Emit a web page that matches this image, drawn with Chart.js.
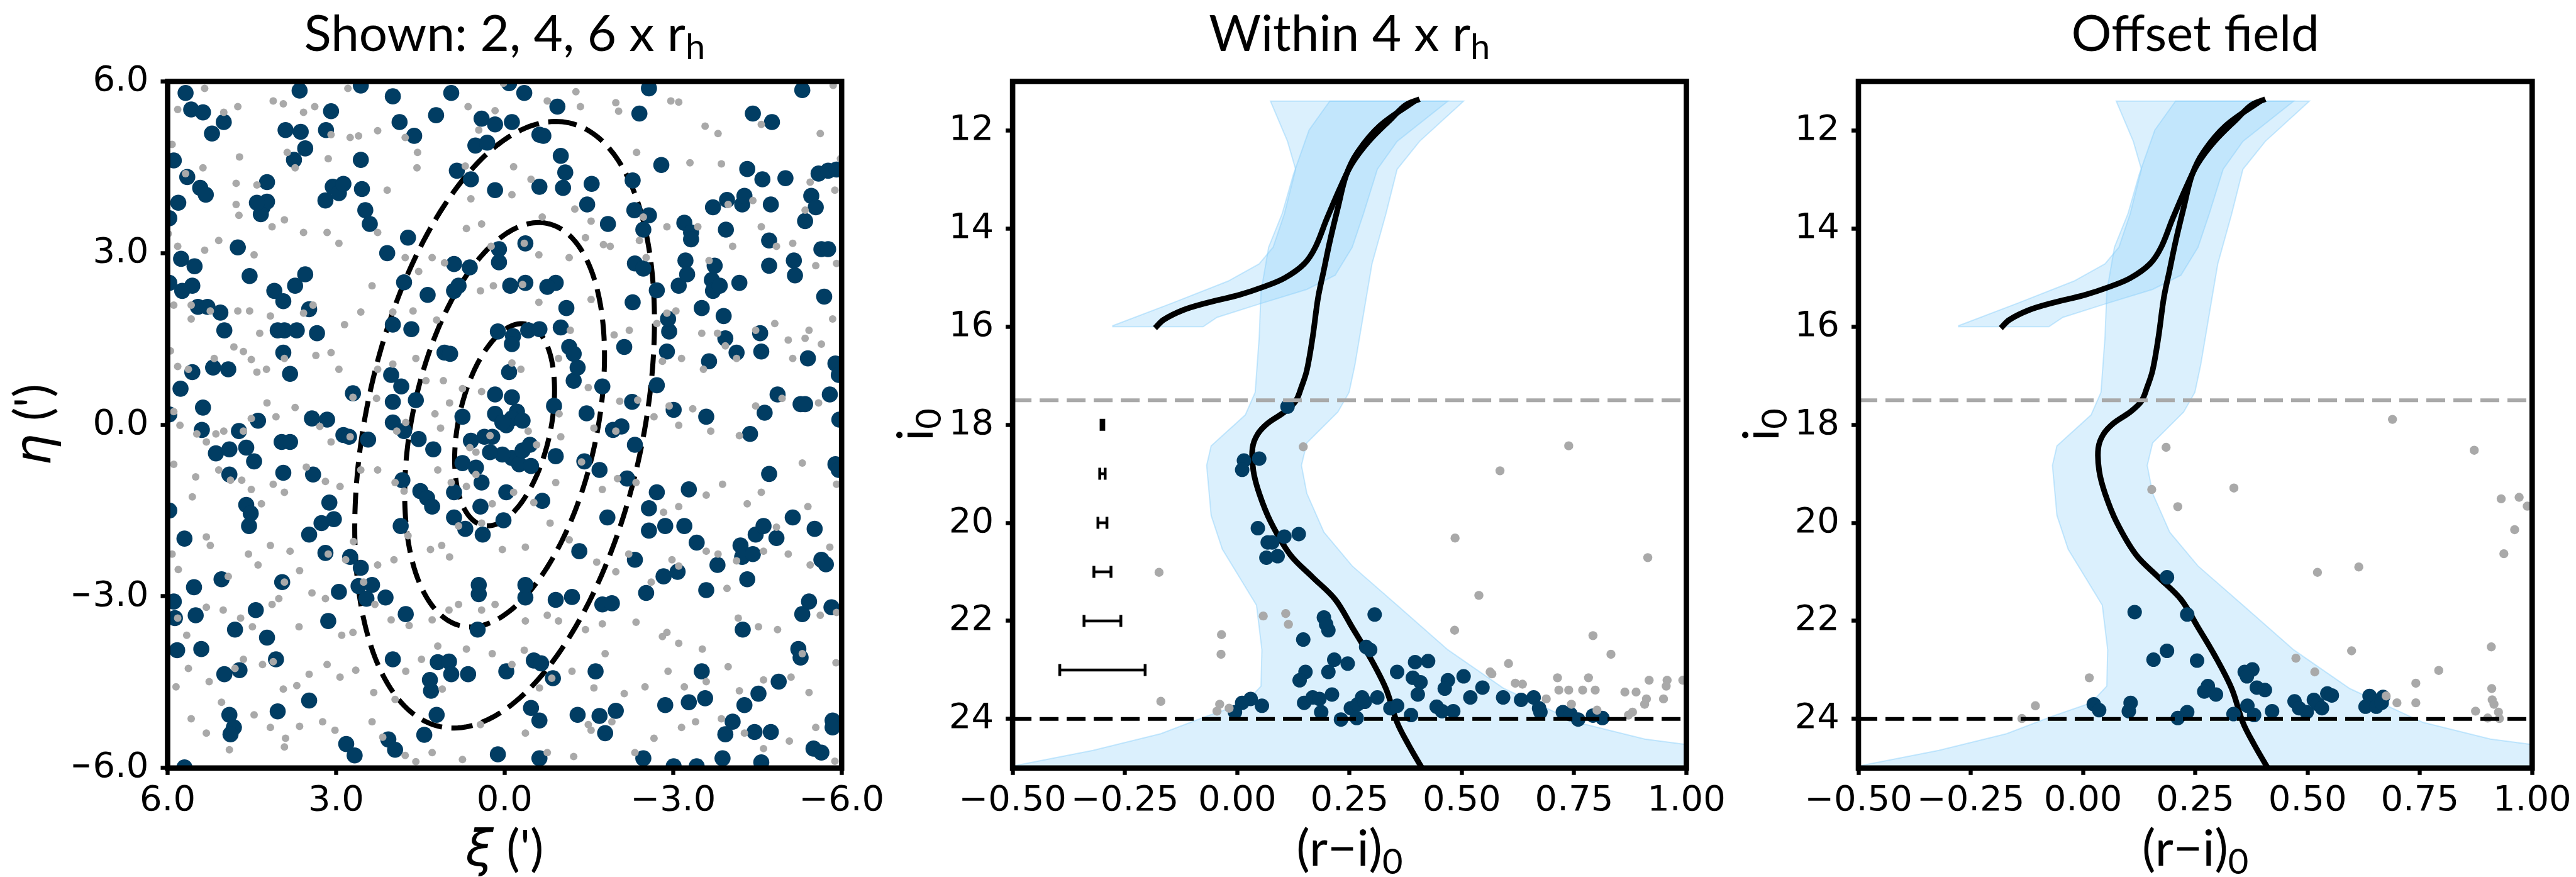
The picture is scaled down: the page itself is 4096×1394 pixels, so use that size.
<!DOCTYPE html>
<html>
<head>
<meta charset="utf-8">
<script src="https://cdn.jsdelivr.net/npm/chart.js@4.4.1/dist/chart.umd.min.js"></script>
<style>
html, body { margin: 0; padding: 0; background: #fff; overflow: hidden; }
canvas { position: absolute; left: 0; top: 0; }
</style>
</head>
<body>
<canvas id="skyChart" width="4096" height="1394"></canvas>
<canvas id="innerChart" width="4096" height="1394"></canvas>
<canvas id="offsetChart" width="4096" height="1394"></canvas>
<script>
// ---- tick values ----
const skyTicks = [-6, -3, 0, 3, 6];
const cmdColorTicks = [-0.5, -0.25, 0, 0.25, 0.5, 0.75, 1.0];
const cmdMagTicks = [12, 14, 16, 18, 20, 22, 24];

// ---- sky panel: ellipse parameters ----
const ellipseMultiples = [2, 4, 6];
const halfLightMajor = 0.9;     // arcmin
const axisRatio = 0.456;
const positionAngle = -12.35;   // deg

// sky panel stars [xi, eta]
const skyMembers = [
[5.68,5.80],[5.58,5.51],[5.37,5.46],[5.21,5.09],[5.0,5.29],[5.89,4.62],[5.65,4.33],[5.81,3.88],[5.42,4.14],[5.32,4.02],
[5.97,3.61],[5.76,2.90],[5.52,2.77],[5.56,2.43],[5.74,2.34],[5.97,2.48],[5.46,2.06],[5.29,2.06],[5.06,1.96],[4.99,1.65],
[5.56,0.92],[5.77,0.63],[5.19,1.0],[4.92,0.97],[5.97,0.18],[5.37,0.30],[5.39,-0.09],[5.14,-0.50],[4.90,-0.43],[4.73,-0.11],
[4.60,-0.40],[4.46,-0.64],[4.90,-0.87],[5.97,-1.50],[5.70,-1.99],[4.60,-1.40],[4.52,-1.55],[4.55,-1.77],[5.04,-2.70],[5.89,-3.09],
[5.87,-3.38],[5.53,-2.84],[5.50,-3.33],[5.83,-3.94],[5.40,-3.92],[4.80,-3.58],[4.43,-3.24],[4.99,-4.36],[4.72,-4.29],[4.90,-5.07],
[4.82,-5.29],[4.88,-5.41],[5.70,-5.99],[4.23,-3.72],[4.07,-4.10],[4.04,-5.01],[3.48,-4.82],[3.96,-2.75],[3.48,-1.92],[3.19,-2.24],
[3.26,-1.72],[3.04,-1.65],[3.12,-1.36],[3.14,-3.43],[2.95,-2.92],[2.75,-2.31],[2.56,-2.50],[2.60,-2.82],[2.36,-2.80],[2.46,-3.04],
[2.12,-3.02],[2.82,-5.58],[2.67,-5.78],[1.76,-3.31],[2.07,-5.50],[1.95,-5.68],[1.99,-4.10],[1.43,-5.42],[1.21,-5.07],[1.31,-4.65],
[1.33,-4.46],[1.19,-4.15],[0.99,-4.14],[0.95,-4.36],[0.65,-4.36],[0.48,-3.58],[0.46,-2.80],[0.46,-2.96],[0.12,-5.76],[-0.03,-4.31],
[-0.37,-3.02],[-0.37,-2.80],[-0.52,-4.12],[-0.65,-4.17],[-0.47,-4.95],[-0.62,-5.17],[-0.62,-5.83],[-0.86,-4.43],[-0.91,-3.06],[-1.20,-3.01],
[-1.33,-2.21],[-1.30,-5.07],[-1.62,-4.31],[-1.74,-3.14],[-1.91,-3.12],[-1.69,-5.09],[-1.79,-5.39],[-1.98,-5.00],[-1.83,-1.62],[-2.32,-2.36],
[-2.47,-5.83],[-2.52,-2.94],[-2.57,-1.46],[-2.57,-1.85],[-2.71,-1.18],[-2.86,-1.77],[-2.83,-2.65],[-3.08,-2.57],[-2.86,-4.90],[-3.01,-5.97],
[-3.20,-1.77],[-3.28,-4.85],[-3.57,-4.78],[-3.28,-1.13],[-3.42,-2.06],[-3.51,-4.31],[-3.59,-2.89],[-3.42,-5.97],[-3.79,-2.45],[-3.88,-5.83],
[-3.93,-5.41],[-4.06,-5.19],[-4.20,-2.11],[-4.23,-2.31],[-4.32,-2.70],[-4.42,-2.26],[-4.24,-3.58],[-4.27,-4.90],[-4.45,-5.37],[-4.74,-5.37],
[-4.52,-4.70],[-4.57,-5.90],[-4.47,-1.92],[-4.61,-1.77],[-4.84,-1.98],[-4.88,-4.49],[-5.13,-1.62],[-5.23,-3.92],[-5.27,-4.07],[-5.30,-3.31],
[-5.42,-3.09],[-5.52,-1.82],[-5.64,-2.36],[-5.72,-2.44],[-5.50,-5.66],[-5.64,-5.73],[-5.82,-3.19],[-5.84,-5.17],[-5.84,-5.29],[-5.89,-0.69],
[-5.95,-0.79],[-5.96,0.09],[-4.71,-0.86],[-4.37,-0.16],[-3.59,0.14],[-3.01,0.26],[-2.18,-0.94],[-2.32,-0.35],[-1.93,-0.09],[-2.08,-0.03],
[-2.27,0.40],[-2.71,0.69],[-1.74,0.67],[-1.46,0.20],[-1.69,-0.79],[-1.42,-0.64],[-0.91,-0.55],[-0.88,0.33],[-0.67,-1.33],[-1.23,0.77],
[-1.30,1.0],[-1.15,1.36],[-1.23,1.24],[-1.0,1.70],[-1.10,2.04],[-0.91,2.48],[-0.76,2.41],[-0.37,2.48],[-0.10,2.43],[-0.37,3.17],
[0.10,3.07],[0.10,2.84],[-0.42,1.65],[-0.62,1.67],[0.12,1.63],[-0.15,1.55],[-0.13,1.41],[-0.08,0.92],[0.17,0.53],[-0.13,0.48],
[-0.22,0.23],[-0.13,0.11],[-0.32,0.07],[-0.03,-0.01],[0.17,0.19],[0.04,0.04],[0.22,-0.21],[0.36,-0.21],[-0.13,-0.58],[-0.26,-0.69],
[0.04,-0.52],[0.26,-0.48],[0.41,-1.01],[0.51,-0.75],[0.75,-0.67],[0.60,-0.28],[0.75,0.14],[-0.03,-1.18],[0.02,-1.67],[-0.32,-0.45],
[-0.45,-0.35],[-0.47,-0.72],[0.43,-1.43],[0.39,-1.92],[0.70,-1.82],[0.90,-1.62],[0.90,-1.18],[1.50,-1.16],[1.38,-1.28],[1.29,-1.43],
[1.82,-0.97],[1.85,-1.77],[1.53,-0.25],[1.27,-0.43],[1.58,0.43],[1.99,0.40],[1.99,0.04],[1.79,-0.11],[1.84,0.67],[2.02,0.87],
[1.99,1.75],[1.66,1.67],[1.79,2.49],[1.72,3.27],[1.37,2.27],[1.07,1.26],[0.97,1.24],[0.90,2.34],[0.82,2.43],[0.62,2.75],
[0.90,2.81],[0.85,4.44],[0.60,4.29],[0.52,4.88],[0.31,4.93],[0.41,5.35],[0.17,5.25],[-0.13,5.29],[0.17,4.10],[-0.62,5.07],
[-0.69,5.05],[-0.62,4.16],[-1.0,4.70],[-1.08,4.41],[-1.04,4.14],[-1.55,4.21],[-1.47,3.85],[-1.84,3.51],[-2.28,4.27],[-2.31,3.75],
[-2.57,3.66],[-2.47,3.41],[-2.32,2.82],[-2.47,2.73],[-2.28,2.14],[-2.13,1.36],[-2.71,2.35],[-2.79,4.54],[-2.89,1.28],[-2.93,1.63],
[-2.91,1.85],[-3.10,2.43],[-3.20,3.53],[-3.32,3.36],[-3.32,3.24],[-3.22,2.87],[-3.25,2.63],[-3.51,2.04],[-3.64,1.11],[-3.74,2.78],
[-3.69,2.53],[-3.71,2.34],[-3.83,2.43],[-3.71,3.80],[-3.94,3.41],[-3.96,3.93],[-4.23,3.85],[-4.27,4.0],[-3.90,1.90],[-3.93,1.51],
[-4.13,1.26],[-4.18,2.48],[-4.32,4.47],[-4.59,4.29],[-4.55,1.60],[-4.57,1.28],[-4.74,3.85],[-4.71,3.22],[-4.71,2.78],[-4.86,0.53],
[-4.63,0.21],[-5.0,4.31],[-5.15,2.87],[-5.17,2.61],[-5.35,3.56],[-5.40,1.16],[-5.27,0.36],[-5.35,0.36],[-5.46,4.0],[-5.54,3.80],
[-5.59,4.39],[-5.76,4.44],[-5.91,4.46],[-5.64,3.07],[-5.76,3.07],[-5.69,2.24],[-5.79,0.53],[-5.89,1.07],[-5.95,0.87],[-4.42,5.44],
[-4.76,5.29],[-5.30,5.85],[-2.57,5.88],[-2.40,5.44],[4.31,3.80],[4.23,3.90],[4.34,3.68],[4.23,4.24],[4.41,3.88],[4.75,3.10],
[4.54,2.60],[4.10,2.34],[3.94,2.16],[3.92,1.65],[4.04,1.65],[3.70,1.65],[3.94,1.26],[3.82,0.89],[3.48,2.02],[3.34,1.60],
[3.73,2.43],[3.55,2.63],[3.90,5.15],[3.63,5.12],[3.55,4.83],[3.75,4.63],[3.18,5.15],[3.09,5.48],[3.19,3.92],[3.06,4.16],
[2.95,4.05],[2.87,4.21],[2.56,4.63],[2.54,4.12],[2.48,3.75],[2.40,3.51],[2.09,3.00],[3.97,-0.30],[3.82,-0.30],[3.94,-0.84],
[3.41,-0.87],[3.43,0.11],[3.16,0.09],[2.87,-0.18],[2.77,-0.21],[2.43,-0.26],[2.70,0.55],[4.39,0.07],[3.65,5.84],[2.56,5.93],
[1.99,5.74],[1.87,5.29],[1.61,5.05],[1.22,5.41],[0.95,5.80],[-0.08,5.97],[-0.35,5.80],[-0.94,5.56]
];
const skyField = [
[5.82,5.51],[5.34,5.88],[5.0,5.46],[4.75,5.56],[4.12,5.66],[3.94,5.61],[3.58,5.46],[3.38,5.56],[2.79,5.88],[2.75,5.02],
[2.26,5.14],[1.77,5.02],[1.55,4.76],[0.65,5.56],[0.46,5.15],[0.17,5.49],[0.02,5.97],[-0.76,5.66],[-1.27,5.82],[-1.35,5.56],
[-1.98,5.63],[-2.03,5.48],[-2.96,5.66],[-3.10,5.64],[-3.80,5.09],[-3.57,5.22],[-4.57,5.25],[-5.62,5.09],[-5.85,5.93],[-5.98,4.65],
[5.92,4.90],[5.68,4.39],[5.37,4.49],[4.72,4.68],[4.41,4.19],[3.87,4.76],[3.73,4.49],[3.14,4.65],[3.09,5.07],[2.60,5.05],
[2.09,4.10],[1.56,4.49],[0.70,4.52],[0.60,3.95],[-0.16,4.51],[-0.13,4.02],[-0.47,4.29],[-0.67,3.63],[-1.25,3.77],[-1.54,3.56],
[-2.35,4.76],[-2.47,3.63],[-3.30,4.58],[-3.86,4.56],[-3.98,3.85],[-4.42,3.92],[-5.35,3.75],[-5.44,4.24],[-5.88,4.10],
[5.99,3.34],[5.82,3.12],[5.34,3.05],[5.09,3.22],[4.78,4.22],[4.78,3.85],[4.73,3.66],[4.46,2.97],[4.14,3.46],[3.92,3.58],
[3.58,3.36],[3.16,3.36],[2.95,3.17],[2.26,3.36],[1.77,2.92],[1.53,2.68],[1.29,2.92],[1.07,2.83],[0.68,3.43],[0.41,3.51],
[0.24,3.12],[-0.35,3.17],[-0.61,2.97],[-1.15,2.92],[-1.44,3.27],[-1.76,3.15],[-1.88,3.12],[-2.40,3.22],[-2.52,2.92],[-2.89,3.46],
[-3.44,3.46],[-3.64,2.87],[-4.06,3.12],[-4.57,3.46],[-4.84,3.12],[-5.13,3.17],[-5.54,2.78],[-5.91,2.82],
[5.89,2.09],[5.58,2.09],[5.58,1.85],[5.24,1.99],[4.75,1.99],[4.54,1.99],[4.36,1.60],[4.17,1.90],[3.58,1.95],[3.41,2.09],
[2.85,1.75],[2.56,1.97],[2.36,2.43],[1.99,1.97],[1.63,1.99],[1.21,1.83],[0.43,2.34],[0.20,2.43],[-0.32,2.45],[-0.61,2.14],
[-1.17,1.65],[-1.54,2.19],[-1.95,1.57],[-2.22,1.65],[-2.71,1.77],[-2.89,1.95],[-3.05,1.99],[-3.51,1.60],[-3.79,1.60],[-4.47,1.65],
[-4.81,1.77],[-5.05,1.48],[-5.35,1.51],[-5.84,1.85],
[5.95,1.29],[5.82,1.02],[5.63,0.97],[5.17,1.16],[4.82,1.36],[4.65,1.28],[4.51,1.14],[4.41,0.92],[4.24,0.97],[3.92,1.16],
[3.36,1.21],[3.09,1.26],[2.95,0.97],[2.26,0.97],[1.99,1.06],[1.58,1.16],[1.40,0.77],[1.09,0.77],[0.75,0.63],[0.41,0.58],
[-0.13,1.08],[-0.29,0.97],[-0.96,1.16],[-1.49,0.65],[-2.05,0.41],[-2.37,0.43],[-2.81,1.11],[-3.15,1.16],[-3.54,0.97],[-3.93,1.38],
[-4.13,1.16],[-4.94,0.46],[-5.13,1.16],[-5.42,1.65],[-5.64,1.41],
[5.89,0.23],[5.78,-0.01],[5.48,-0.16],[5.31,-0.30],[5.14,-0.16],[5.0,-0.11],[4.65,-0.11],[4.51,0.11],[4.23,0.38],[4.07,0.14],
[3.73,0.30],[3.29,-0.03],[3.09,-0.30],[2.75,-0.21],[2.70,0.48],[2.28,0.46],[1.92,-0.11],[1.76,0.04],[1.24,0.19],[1.14,-0.06],
[0.98,0.38],[0.62,-0.40],[0.51,-0.48],[0.26,-0.19],[-0.42,-0.11],[-0.57,-0.35],[-1.0,-0.21],[-0.97,0.19],[-1.59,-0.06],[-1.98,-0.11],
[-2.66,0.14],[-2.93,0.33],[-3.10,-0.01],[-3.35,0.28],[-3.67,-0.11],[-4.18,-0.19],[-4.47,0.33],[-5.30,-0.67],[-5.59,0.38],
[5.89,-0.69],[5.50,-0.91],[5.09,-0.79],[4.88,-0.97],[4.68,-0.97],[4.51,-1.13],[4.33,-1.38],[4.12,-1.04],[3.92,-1.18],[3.53,-0.74],
[3.19,-0.99],[2.93,-1.08],[2.56,-0.79],[2.26,-0.79],[1.95,-1.01],[1.79,-1.16],[1.19,-0.79],[0.95,-1.01],[0.68,-1.08],[0.51,-0.87],
[0.22,-1.38],[-0.16,-1.18],[-0.52,-1.36],[-0.91,-1.01],[-1.37,-0.65],[-1.74,-1.13],[-2.01,-0.94],[-2.34,-1.01],[-2.83,-1.53],[-3.10,-1.43],
[-3.59,-1.23],[-3.88,-1.04],[-4.32,-1.38],[-4.57,-1.18],[-4.84,-1.79],[-5.40,-1.43],[-5.91,-1.04],
[5.92,-2.26],[5.81,-2.53],[5.56,-1.26],[5.31,-1.96],[5.24,-2.11],[4.92,-2.65],[4.56,-2.26],[4.39,-2.45],[4.17,-2.11],[3.82,-2.21],
[3.92,-2.75],[3.65,-2.55],[3.14,-2.26],[2.83,-2.36],[2.69,-2.04],[2.51,-2.75],[2.26,-2.45],[1.97,-2.36],[1.72,-1.94],[1.32,-2.18],
[1.12,-2.11],[0.98,-2.31],[0.82,-1.77],[0.41,-1.72],[0.04,-2.18],[-0.37,-2.14],[-0.81,-1.72],[-1.15,-2.01],[-1.64,-2.40],[-1.98,-2.57],
[-2.21,-2.26],[-2.61,-2.75],[-2.98,-2.36],[-3.10,-2.47],[-3.59,-2.21],[-3.80,-2.26],[-4.13,-2.38],[-4.61,-2.21],[-5.05,-2.26],[-5.44,-2.45],
[-5.79,-2.14],[-5.91,-3.28],
[5.82,-3.38],[5.66,-3.68],[5.31,-3.19],[5.01,-3.24],[4.70,-3.38],[4.49,-3.53],[4.14,-3.14],[4.02,-3.04],[3.66,-3.53],[3.43,-2.94],
[3.19,-3.04],[2.90,-3.68],[2.70,-3.63],[2.31,-3.14],[2.02,-3.41],[1.70,-3.51],[1.29,-3.41],[0.99,-3.24],[0.82,-3.14],[0.41,-3.24],
[0.17,-3.14],[-0.37,-3.43],[-0.76,-3.33],[-0.96,-3.43],[-1.44,-3.58],[-1.74,-3.48],[-2.34,-3.45],[-2.81,-3.70],[-2.89,-3.63],[-3.10,-3.82],
[-3.52,-3.92],[-3.96,-2.86],[-4.16,-3.38],[-4.52,-3.53],[-4.86,-3.58],[-5.30,-4.0],[-5.62,-3.33],
[5.85,-4.58],[5.63,-4.26],[5.26,-4.49],[5.04,-4.85],[4.80,-4.26],[4.65,-4.10],[4.31,-4.19],[4.12,-4.14],[3.94,-4.62],[3.70,-4.56],
[3.48,-4.36],[3.16,-4.19],[2.93,-4.41],[2.65,-4.29],[2.33,-4.68],[1.95,-4.80],[1.76,-4.31],[1.48,-4.10],[1.19,-3.87],[1.11,-4.62],
[0.68,-3.92],[0.22,-4.0],[-0.13,-4.19],[-0.35,-3.94],[-0.62,-4.60],[-0.84,-4.43],[-1.20,-4.31],[-1.59,-4.60],[-1.79,-4.0],[-2.13,-4.70],
[-2.50,-4.58],[-2.91,-4.31],[-3.20,-4.58],[-3.59,-4.49],[-3.98,-4.23],[-4.18,-4.65],[-4.61,-4.46],[-5.10,-4.41],[-5.42,-4.68],[-5.90,-4.16],
[5.58,-5.14],[5.31,-5.39],[4.90,-5.68],[4.46,-5.07],[4.17,-5.29],[3.90,-5.48],[3.92,-5.63],[3.65,-5.27],[3.24,-5.19],[3.02,-5.34],
[2.36,-5.19],[2.17,-5.46],[1.77,-5.78],[1.58,-5.89],[1.29,-5.73],[0.75,-5.85],[0.43,-5.24],[-0.37,-5.39],[-0.76,-5.73],[-1.23,-5.80],
[-1.49,-5.24],[-1.54,-5.34],[-1.91,-5.19],[-2.32,-5.73],[-2.66,-5.48],[-3.15,-5.29],[-3.40,-5.19],[-3.86,-5.14],[-4.27,-5.39],[-4.61,-5.66],
[-5.07,-5.53],[-5.54,-5.29],[-5.88,-5.88]
];

// ---- CMD panels [colour (r-i)0, magnitude i0] ----
const isoUpperBranch = [
[-0.183,16.03],[-0.164,15.86],[-0.12,15.66],[-0.07,15.52],[0.005,15.35],[0.055,15.20],[0.105,15.01],[0.149,14.72],
[0.174,14.38],[0.199,13.81],[0.231,13.13],[0.256,12.67],[0.293,12.22],[0.343,11.76],[0.375,11.48],[0.406,11.36]
];
const isoMainBranch = [
[0.395,11.40],[0.318,11.90],[0.268,12.44],[0.243,12.90],[0.224,13.58],[0.206,14.27],[0.193,14.84],[0.180,15.41],
[0.168,16.21],[0.155,16.89],[0.143,17.23],[0.130,17.52],[0.105,17.74],[0.068,17.97],[0.045,18.20],[0.034,18.48],
[0.036,18.94],[0.049,19.40],[0.074,19.97],[0.118,20.65],[0.168,21.11],[0.218,21.56],[0.256,22.13],[0.293,22.70],
[0.331,23.38],[0.356,24.07],[0.381,24.52],[0.41,24.98]
];
const bandUpperBranch = [
[0.074,11.40],[0.112,12.22],[0.130,12.79],[0.105,13.70],[0.080,14.38],[0.049,14.72],[-0.020,15.07],[-0.145,15.52],
[-0.277,15.98],[-0.277,16.0],[-0.076,16.0],[-0.045,15.81],[0.055,15.52],[0.155,15.24],[0.218,14.95],[0.256,14.38],
[0.281,13.70],[0.312,12.79],[0.356,12.22],[0.469,11.40]
];
const bandMainBranch = [
[0.504,11.40],[0.406,12.22],[0.356,12.79],[0.331,13.70],[0.300,14.72],[0.281,15.75],[0.262,16.78],[0.249,17.34],
[0.224,17.74],[0.155,18.37],[0.143,18.83],[0.155,19.40],[0.193,20.19],[0.256,20.88],[0.356,21.68],[0.469,22.59],
[0.594,23.38],[0.757,24.07],[0.907,24.41],[1.0,24.52],[1.0,25.0],[-0.5,25.0],[-0.5,24.96],[-0.321,24.64],
[-0.170,24.30],[-0.070,23.95],[0.018,23.67],[0.053,23.33],[0.055,22.59],[0.043,21.68],[0.005,21.11],[-0.033,20.54],
[-0.058,19.85],[-0.068,18.83],[-0.058,18.43],[0.018,17.80],[0.040,17.34],[0.049,16.21],[0.053,15.29],[0.070,14.38],
[0.100,13.70],[0.125,12.90],[0.160,11.99],[0.206,11.40]
];
const brightLimit = 17.5;
const faintLimit = 24;

const innerMembers = [
[0.112,17.63],[0.015,18.73],[0.011,18.92],[0.049,18.69],[0.046,20.11],[0.068,20.40],[0.078,20.40],[0.065,20.71],[0.090,20.68],
[0.105,20.28],[0.137,20.23],[0.193,21.93],[0.203,22.19],[0.198,22.07],[0.306,21.87],[0.147,22.38],[0.216,22.79],[0.246,22.87],
[0.287,22.53],[0.296,22.59],[0.396,22.84],[0.425,22.82],[0.356,23.04],[0.152,23.04],[0.139,23.21],[0.203,23.04],[0.391,23.16],
[0.408,23.25],[0.469,23.21],[0.462,23.38],[0.504,23.13],[0.546,23.36],[0.519,23.56],[0.592,23.56],[0.632,23.61],[0.660,23.56],
[0.672,23.78],[0.675,23.86],[0.149,23.67],[0.168,23.56],[0.183,23.59],[0.211,23.50],[0.187,23.86],[0.030,23.59],[0.011,23.67],
[-0.005,23.86],[0.055,23.73],[0.253,23.78],[0.268,23.70],[0.278,23.56],[0.284,23.65],[0.231,24.01],[0.266,23.98],[0.312,23.56],
[0.341,23.78],[0.356,23.73],[0.387,23.92],[0.402,23.50],[0.444,23.75],[0.456,23.84],[0.481,23.84],[0.725,23.86],[0.742,23.90],
[0.759,24.01],[0.792,23.93],[0.813,23.98]
];
const innerField = [
[0.738,18.43],[0.585,18.94],[0.147,18.45],[0.485,20.31],[0.914,20.71],[-0.174,21.01],[0.538,21.48],[0.058,21.90],[0.108,21.85],
[0.114,22.07],[0.484,22.19],[0.792,22.30],[-0.035,22.28],[-0.036,22.68],[0.832,22.68],[0.604,22.87],[0.563,23.04],[0.567,23.08],
[0.619,23.27],[0.635,23.29],[0.713,23.16],[0.782,23.16],[0.716,23.41],[0.738,23.41],[0.769,23.41],[0.797,23.41],[0.917,23.21],
[0.957,23.21],[0.992,23.21],[0.955,23.33],[0.863,23.45],[0.888,23.45],[0.911,23.59],[0.907,23.70],[0.949,23.59],[0.688,23.59],
[0.744,23.70],[0.801,23.82],[0.880,23.86],[0.871,23.92],[-0.170,23.64],[-0.039,23.70],[-0.045,23.84],[-0.018,23.78]
];
const offsetMembers = [
[0.187,21.11],[0.115,21.82],[0.232,21.87],[0.157,22.79],[0.187,22.61],[0.254,22.81],[0.360,23.04],[0.377,22.99],[0.365,23.13],
[0.278,23.33],[0.270,23.44],[0.296,23.50],[0.387,23.36],[0.405,23.41],[0.544,23.48],[0.554,23.52],[0.471,23.64],[0.481,23.78],
[0.514,23.61],[0.523,23.70],[0.532,23.78],[0.498,23.86],[0.638,23.53],[0.629,23.75],[0.653,23.75],[0.668,23.55],[0.665,23.67],
[0.024,23.70],[0.036,23.82],[0.106,23.67],[0.102,23.84],[0.211,23.98],[0.232,23.86],[0.335,23.90],[0.366,23.73],[0.381,23.92],
[0.421,23.84]
];
const offsetField = [
[0.689,17.89],[0.185,18.46],[0.871,18.52],[0.153,19.32],[0.336,19.29],[0.211,19.67],[0.931,19.51],[0.971,19.48],[0.989,19.66],
[0.961,20.14],[0.937,20.63],[0.522,21.01],[0.614,20.90],[0.909,22.53],[0.598,22.61],[0.474,22.76],[0.516,23.04],[0.792,23.01],
[0.741,23.27],[0.014,23.16],[0.910,23.38],[0.911,23.61],[0.915,23.70],[0.699,23.67],[0.741,23.67],[0.675,23.53],[-0.106,23.73],
[-0.136,23.99],[0.874,23.84],[0.925,23.86],[0.901,23.98],[0.927,23.99]
];

// photometric errors shown in the inner panel
const errMag = [18, 19, 20, 21, 22, 23];
const errColour = [-0.30, -0.30, -0.30, -0.30, -0.30, -0.30];
const errSize = [0.003, 0.006, 0.01, 0.019, 0.041, 0.095];

// ---- styling / layout (0.801 of reference) ----
const memberColour = '#013d63';
const fieldColour = '#a9a9a9';
const bandFill = 'rgba(135, 206, 250, 0.3)';
const bandEdge = 'rgba(135, 206, 250, 0.45)';
const labelFont = 'Lato';
const tickFont = 'DejaVu Sans';
const panelTop = 129.5, panelBottom = 1220.8;
const panels = {
    sky: [266.5, 1338.2],
    inner: [1610.1, 2681.5],
    offset: [2955.0, 4026.3]
};

const toXY = arr => arr.map(p => ({ x: p[0], y: p[1] }));
const minusFmt = d => v => (v < 0 ? '\u2212' : '') + Math.abs(v).toFixed(d);

function ellipsePoints(k) {
    const a = k * halfLightMajor, b = a * axisRatio;
    const phi = positionAngle * Math.PI / 180;
    const pts = [];
    for (let i = 0; i <= 240; i++) {
        const t = i / 240 * 2 * Math.PI;
        const u = a * Math.cos(t), w = b * Math.sin(t);
        pts.push({ x: u * Math.sin(phi) + w * Math.cos(phi), y: u * Math.cos(phi) - w * Math.sin(phi) });
    }
    return pts;
}

function makeAxis(min, max, ticks, reverse, fmt, isX) {
    return {
        type: 'linear', min: min, max: max, reverse: reverse,
        afterBuildTicks: s => { s.ticks = ticks.map(v => ({ value: v })); },
        afterFit: s => {
            if (isX) s.height = 100; else s.width = 150;
            s.paddingLeft = 0; s.paddingRight = 0; s.paddingTop = 0; s.paddingBottom = 0;
        },
        grid: { display: true, drawOnChartArea: false, drawTicks: true, tickLength: 11, tickWidth: 6.4, tickColor: '#000' },
        border: { display: false },
        ticks: {
            color: '#000', autoSkip: false, maxRotation: 0,
            padding: isX ? 8 : 19,
            font: { family: tickFont, size: 56 },
            callback: v => fmt(v)
        }
    };
}

// text with italic greek and subscripts
function drawRich(ctx, segs, x, y, size, rotate) {
    const fontOf = k => (k === 'i' ? 'italic ' : '') + Math.round(k === 's' ? size * 0.7 : size) + 'px "' + (k === 'i' ? 'DejaVu Sans' : labelFont) + '"';
    ctx.save();
    ctx.translate(x, y);
    if (rotate) ctx.rotate(-Math.PI / 2);
    ctx.textAlign = 'left';
    ctx.textBaseline = 'alphabetic';
    ctx.fillStyle = '#000';
    let w = 0;
    segs.forEach(([t, k]) => { ctx.font = fontOf(k); w += ctx.measureText(t).width; });
    let cx = -w / 2;
    segs.forEach(([t, k]) => {
        ctx.font = fontOf(k);
        ctx.fillText(t, cx, k === 's' ? size * 0.16 : 0);
        cx += ctx.measureText(t).width;
    });
    ctx.restore();
}

function panelPlugin(cfg) {
    return {
        id: 'panelDecor',
        beforeDatasetsDraw(chart) {
            if (!cfg.bands) return;
            const { ctx, chartArea, scales } = chart;
            ctx.save();
            ctx.beginPath();
            ctx.rect(chartArea.left, chartArea.top, chartArea.right - chartArea.left, chartArea.bottom - chartArea.top);
            ctx.clip();
            cfg.bands.forEach(poly => {
                ctx.beginPath();
                poly.forEach((p, i) => {
                    const px = scales.x.getPixelForValue(p[0]), py = scales.y.getPixelForValue(p[1]);
                    if (i === 0) ctx.moveTo(px, py); else ctx.lineTo(px, py);
                });
                ctx.closePath();
                ctx.fillStyle = bandFill;
                ctx.fill();
                ctx.strokeStyle = bandEdge;
                ctx.lineWidth = 2;
                ctx.stroke();
            });
            ctx.restore();
        },
        afterDatasetsDraw(chart) {
            if (!cfg.errors) return;
            const { ctx, scales } = chart;
            ctx.save();
            ctx.strokeStyle = '#000';
            ctx.lineWidth = 4.5;
            errMag.forEach((m, i) => {
                const y = scales.y.getPixelForValue(m);
                const x0 = scales.x.getPixelForValue(errColour[i] - errSize[i]);
                const x1 = scales.x.getPixelForValue(errColour[i] + errSize[i]);
                ctx.beginPath();
                ctx.moveTo(x0, y); ctx.lineTo(x1, y);
                ctx.moveTo(x0, y - 9.5); ctx.lineTo(x0, y + 9.5);
                ctx.moveTo(x1, y - 9.5); ctx.lineTo(x1, y + 9.5);
                ctx.stroke();
            });
            ctx.restore();
        },
        afterDraw(chart) {
            const { ctx, chartArea } = chart;
            ctx.save();
            ctx.strokeStyle = '#000';
            ctx.lineWidth = 8.6;
            ctx.strokeRect(chartArea.left, chartArea.top, chartArea.right - chartArea.left, chartArea.bottom - chartArea.top);
            ctx.restore();
            const cx = (chartArea.left + chartArea.right) / 2;
            const cy = (chartArea.top + chartArea.bottom) / 2;
            drawRich(ctx, cfg.title, cx, 81, 80, false);
            drawRich(ctx, cfg.xLabel, cx, 1376, 80, false);
            drawRich(ctx, cfg.yLabel, cfg.yLabelX, cy, 80, true);
        }
    };
}

function baseOptions(box, xAxis, yAxis) {
    return {
        responsive: false,
        animation: false,
        events: [],
        devicePixelRatio: 1,
        layout: { padding: { left: box[0] - 150, right: 4096 - box[1], top: panelTop, bottom: 1394 - panelBottom - 100 } },
        plugins: { legend: { display: false }, tooltip: { enabled: false }, title: { display: false } },
        scales: { x: xAxis, y: yAxis }
    };
}

function scatterSet(arr, colour, r) {
    return { data: toXY(arr), showLine: false, pointRadius: r, pointHoverRadius: r, pointBorderWidth: 0,
             pointBackgroundColor: colour, borderColor: colour, clip: 0 };
}
function lineSet(pts, colour, width, dash) {
    return { data: pts, showLine: true, pointRadius: 0, borderColor: colour, borderWidth: width,
             borderDash: dash || [], tension: 0, fill: false, clip: 0 };
}

// ---- sky panel ----
new Chart(document.getElementById('skyChart'), {
    type: 'line',
    data: {
        datasets: [
            scatterSet(skyField, fieldColour, 6),
            scatterSet(skyMembers, memberColour, 12.8),
            ...ellipseMultiples.map(k => lineSet(ellipsePoints(k), '#000', 8, [34, 15]))
        ]
    },
    options: baseOptions(panels.sky,
        makeAxis(-6, 6, skyTicks, true, minusFmt(1), true),
        makeAxis(-6, 6, skyTicks, false, minusFmt(1), false)),
    plugins: [panelPlugin({
        title: [['Shown: 2, 4, 6 x r', ''], ['h', 's']],
        xLabel: [['\u03be', 'i'], [" (')", '']],
        yLabel: [['\u03b7', 'i'], [" (')", '']],
        yLabelX: 80
    })]
});

// ---- CMD panels ----
function cmdChart(id, box, members, field, title, errors) {
    new Chart(document.getElementById(id), {
        type: 'line',
        data: {
            datasets: [
                lineSet([{ x: -0.5, y: brightLimit }, { x: 1.0, y: brightLimit }], '#a9a9a9', 6, [30, 13]),
                lineSet([{ x: -0.5, y: faintLimit }, { x: 1.0, y: faintLimit }], '#000', 6, [30, 13]),
                scatterSet(field, fieldColour, 7.2),
                scatterSet(members, memberColour, 11.5),
                Object.assign(lineSet(toXY(isoUpperBranch), '#000', 9), { tension: 0.35 }),
                Object.assign(lineSet(toXY(isoMainBranch), '#000', 9), { tension: 0.35 })
            ]
        },
        options: baseOptions(box,
            makeAxis(-0.5, 1.0, cmdColorTicks, false, minusFmt(2), true),
            makeAxis(11, 25, cmdMagTicks, true, v => String(v), false)),
        plugins: [panelPlugin({
            title: title,
            xLabel: [['(r\u2212i)', ''], ['0', 's']],
            yLabel: [['i', ''], ['0', 's']],
            yLabelX: box[0] - 127,
            bands: [bandUpperBranch, bandMainBranch],
            errors: errors
        })]
    });
}
cmdChart('innerChart', panels.inner, innerMembers, innerField, [['Within 4 x r', ''], ['h', 's']], true);
cmdChart('offsetChart', panels.offset, offsetMembers, offsetField, [['Offset field', '']], false);
</script>
</body>
</html>
